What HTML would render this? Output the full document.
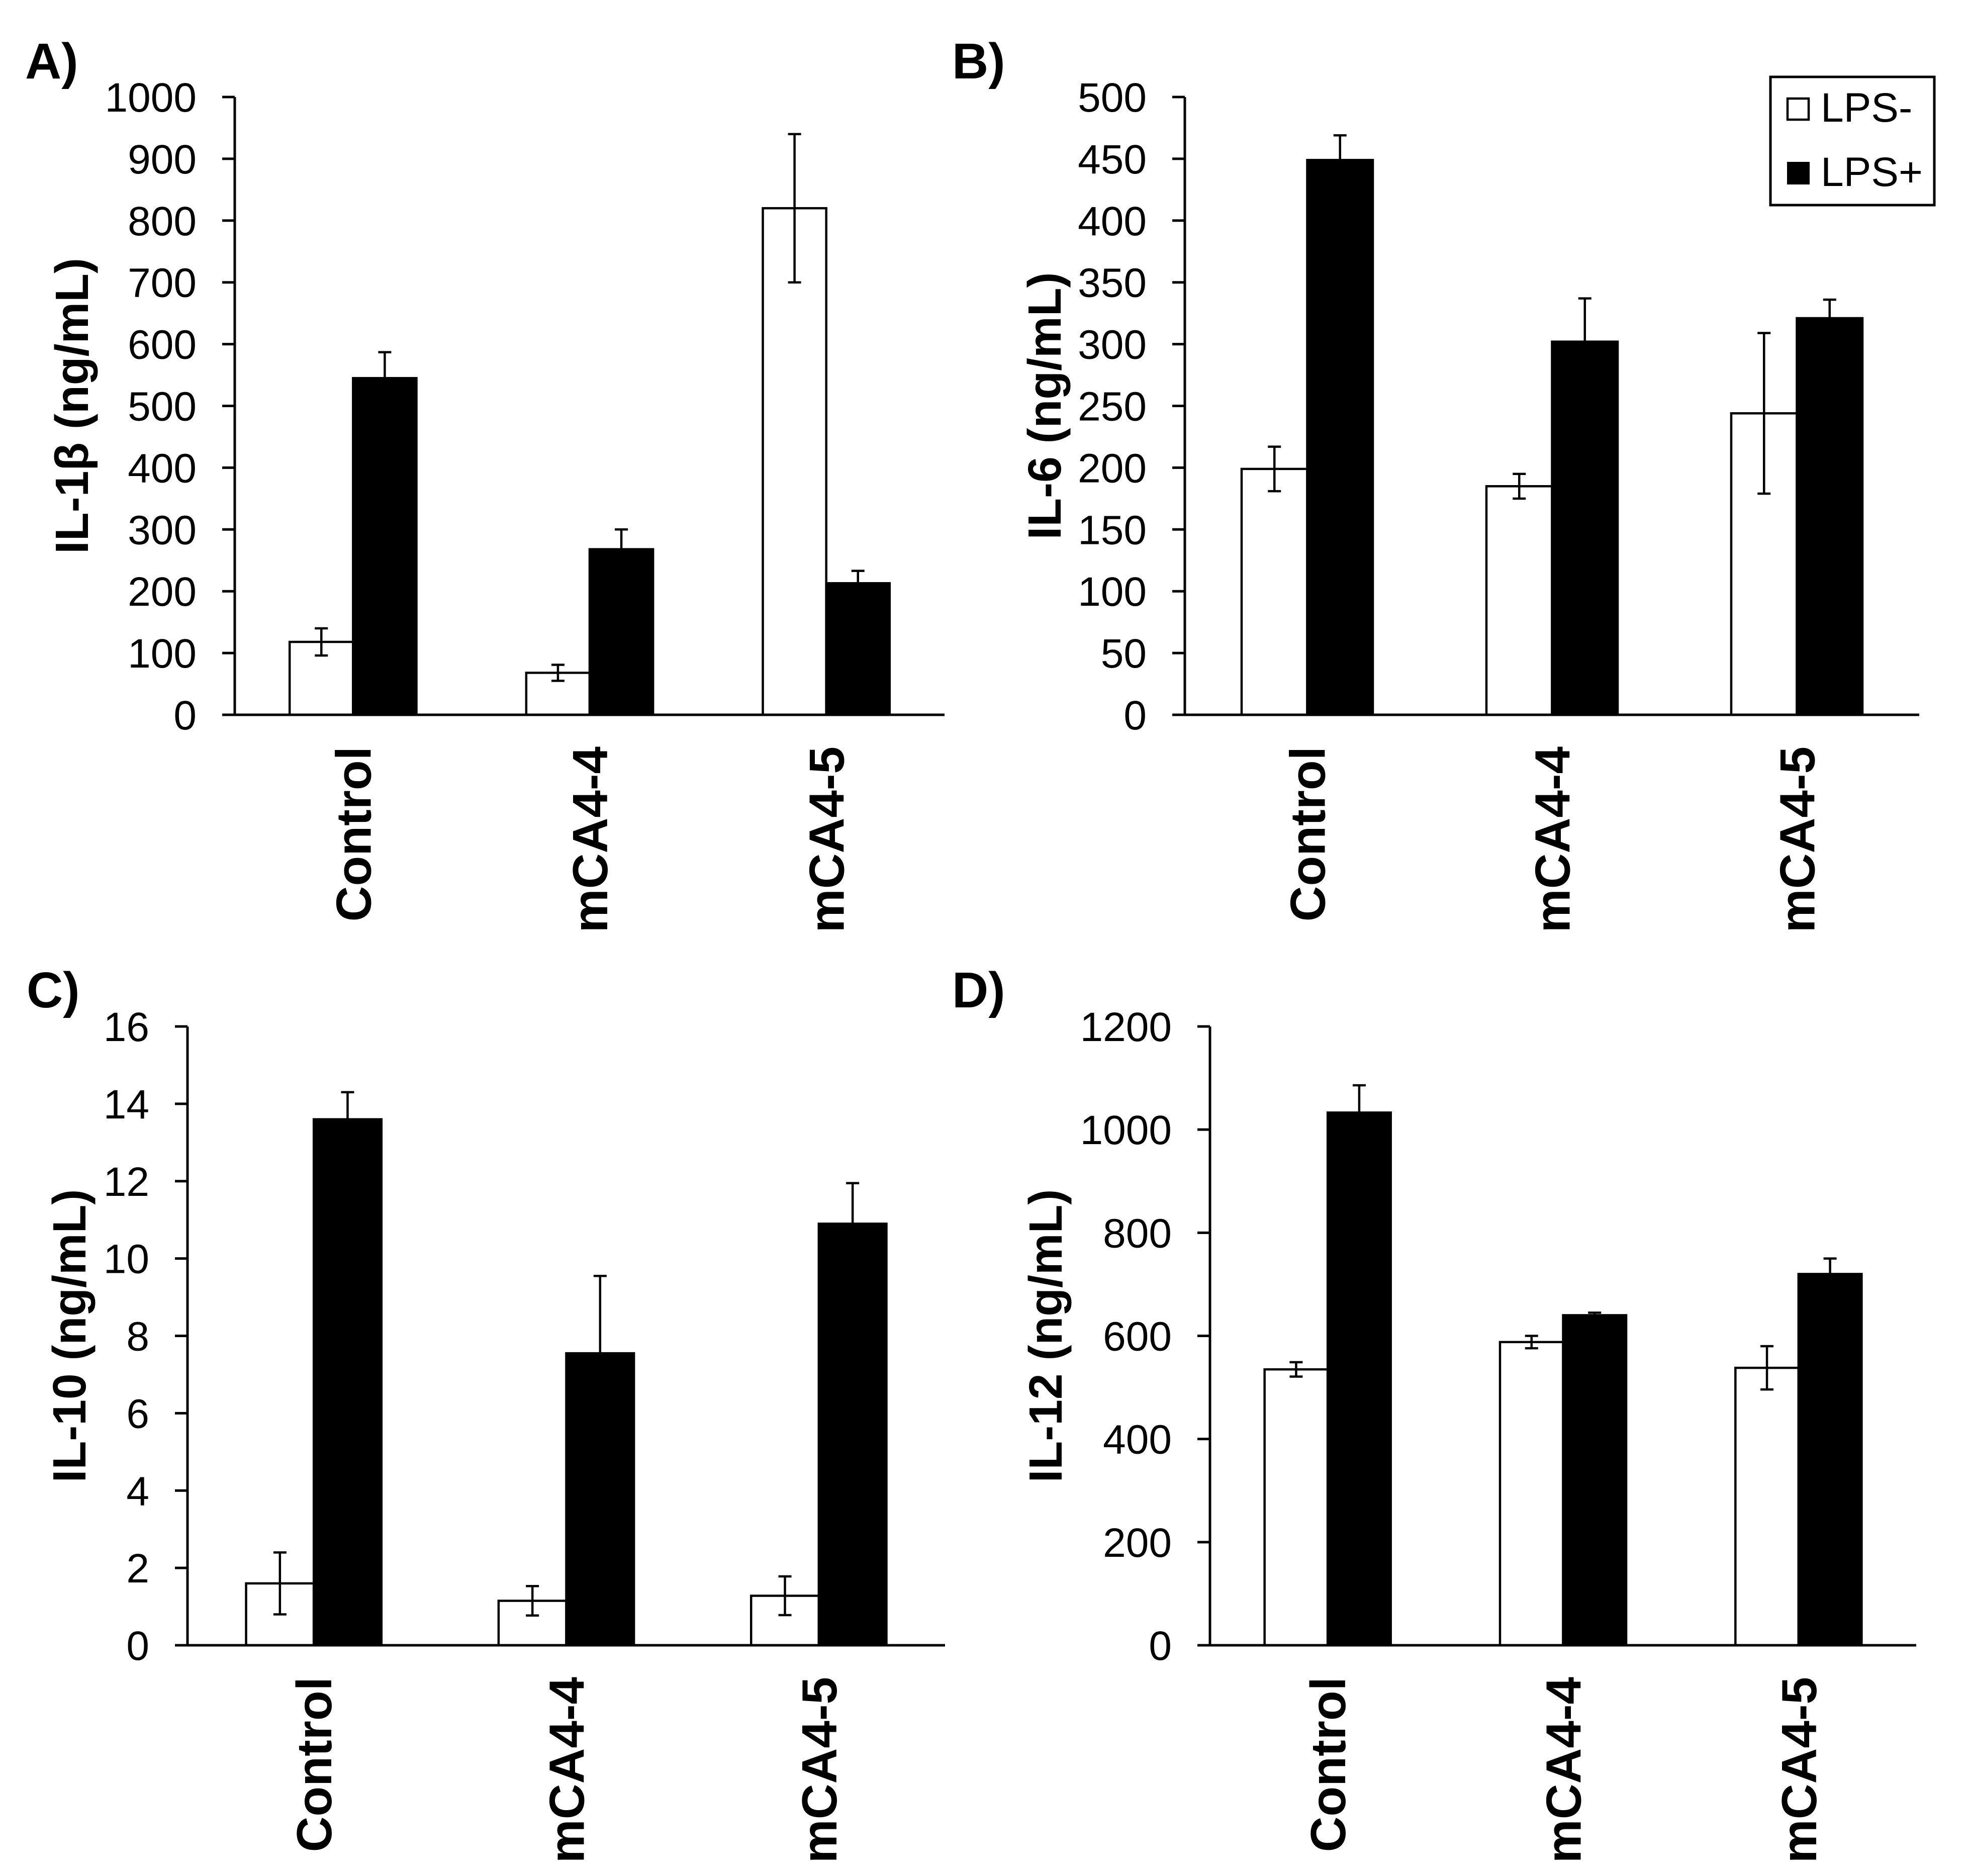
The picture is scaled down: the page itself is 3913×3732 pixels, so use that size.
<!DOCTYPE html>
<html><head><meta charset="utf-8"><style>
html,body{margin:0;padding:0;background:#fff;}
svg{display:block;}
text{font-family:"Liberation Sans",Arial,sans-serif;fill:#000;}
</style></head><body>
<svg id="fig" width="3913" height="3732" viewBox="0 0 3913 3732" xmlns="http://www.w3.org/2000/svg">
<rect x="0" y="0" width="3913" height="3732" fill="#fff"/>
<g>
<rect x="3522" y="153" width="326" height="255" fill="#fff" stroke="#000" stroke-width="5"/>
<rect x="3556" y="196" width="42" height="42" fill="#fff" stroke="#000" stroke-width="4.5"/>
<text x="3622" y="242" font-size="82">LPS-</text>
<rect x="3555" y="322" width="45" height="45" fill="#000"/>
<text x="3622" y="370" font-size="82">LPS+</text>
</g>
</svg>
<script>
const categories = ["Control", "mCA4-4", "mCA4-5"];
const il1bMinus = [118, 68, 820];
const il1bMinusErr = [22, 13, 120];
const il1bPlus = [545, 268, 213];
const il1bPlusErr = [42, 32, 20];
const il6Minus = [199, 185, 244];
const il6MinusErr = [18, 10, 65];
const il6Plus = [449, 302, 321];
const il6PlusErr = [20, 35, 15];
const il10Minus = [1.6, 1.15, 1.28];
const il10MinusErr = [0.8, 0.38, 0.5];
const il10Plus = [13.6, 7.55, 10.9];
const il10PlusErr = [0.7, 2.0, 1.05];
const il12Minus = [535, 588, 538];
const il12MinusErr = [14, 12, 42];
const il12Plus = [1033, 640, 720];
const il12PlusErr = [53, 5, 30];
const ticksA = [0, 100, 200, 300, 400, 500, 600, 700, 800, 900, 1000];
const ticksB = [0, 50, 100, 150, 200, 250, 300, 350, 400, 450, 500];
const ticksC = [0, 2, 4, 6, 8, 10, 12, 14, 16];
const ticksD = [0, 200, 400, 600, 800, 1000, 1200];

const NS = "http://www.w3.org/2000/svg";
const svg = document.getElementById("fig");
function mk(tag, attrs, parent) {
  const e = document.createElementNS(NS, tag);
  for (const k in attrs) e.setAttribute(k, attrs[k]);
  (parent || svg).appendChild(e);
  return e;
}
const panels = [
  {id:"a", letter:"A)", lx:50, ly:156, title:"IL-1\u03B2 (ng/mL)", tx:175, x0:467, x1:1879, yTop:193, yZero:1422, ticks:ticksA, minus:il1bMinus, minusErr:il1bMinusErr, plus:il1bPlus, plusErr:il1bPlusErr},
  {id:"b", letter:"B)", lx:1894, ly:156, title:"IL-6 (ng/mL)", tx:2110, x0:2357, x1:3818, yTop:193, yZero:1422, ticks:ticksB, minus:il6Minus, minusErr:il6MinusErr, plus:il6Plus, plusErr:il6PlusErr},
  {id:"c", letter:"C)", lx:53, ly:2004, title:"IL-10 (ng/mL)", tx:170, x0:373, x1:1880, yTop:2042, yZero:3273, ticks:ticksC, minus:il10Minus, minusErr:il10MinusErr, plus:il10Plus, plusErr:il10PlusErr},
  {id:"d", letter:"D)", lx:1894, ly:2004, title:"IL-12 (ng/mL)", tx:2112, x0:2407, x1:3812, yTop:2042, yZero:3273, ticks:ticksD, minus:il12Minus, minusErr:il12MinusErr, plus:il12Plus, plusErr:il12PlusErr}
];
panels.forEach(p => {
  const g = mk("g", {});
  
  
  const maxV = p.ticks[p.ticks.length - 1];
  const y = v => p.yZero - (v / maxV) * (p.yZero - p.yTop);
  const cw = (p.x1 - p.x0) / categories.length;
  const cx = i => p.x0 + cw * (i + 0.5);
  const bw = cw * 0.268;
  const lab = mk("text", {x:p.lx, y:p.ly, "font-size":100, "font-weight":"bold"}, g);
  lab.textContent = p.letter;
  
  
  const yc = (p.yTop + p.yZero) / 2;
  const t = mk("text", {x:p.tx, y:yc, "font-size":93, "font-weight":"bold", "text-anchor":"middle", transform:`rotate(-90 ${p.tx} ${yc})`}, g);
  t.textContent = p.title;
  
  
  p.ticks.forEach(v => {
    const tl = mk("line", {x1:p.x0 - 25, x2:p.x0, y1:y(v), y2:y(v), stroke:"#000", "stroke-width":5}, g);
    
    
    const tt = mk("text", {x:p.x0 - 76, y:y(v) + 29, "font-size":82, "text-anchor":"end"}, g);
    tt.textContent = v;
    
    
  });
  categories.forEach((c, i) => {
    const series = [[p.minus, p.minusErr, "#fff", cx(i) - bw, "lps-minus"], [p.plus, p.plusErr, "#000", cx(i), "lps-plus"]];
    series.forEach(s => {
      const v = s[0][i], e = s[1][i];
      const r = mk("rect", {x:s[3], y:y(v), width:bw, height:p.yZero - y(v), fill:s[2], stroke:"#000", "stroke-width":4.5}, g);
      
      
      const ex = s[3] + bw / 2;
      const eb = mk("path", {d:`M${ex},${y(v - e)}V${y(v + e)}M${ex - 13},${y(v - e)}H${ex + 13}M${ex - 13},${y(v + e)}H${ex + 13}`, stroke:"#000", "stroke-width":4.5, fill:"none"}, g);
      
      
    });
    const lx = cx(i) + 35, ly = p.yZero + 63;
    const ct = mk("text", {x:lx, y:ly, "font-size":98, "font-weight":"bold", "text-anchor":"end", transform:`rotate(-90 ${lx} ${ly})`}, g);
    ct.textContent = c;
    
    
  });
  const ax = mk("path", {d:`M${p.x0},${p.yTop}V${p.yZero}H${p.x1}`, stroke:"#000", "stroke-width":5, fill:"none"}, g);
  
  
});
</script>
</body></html>
